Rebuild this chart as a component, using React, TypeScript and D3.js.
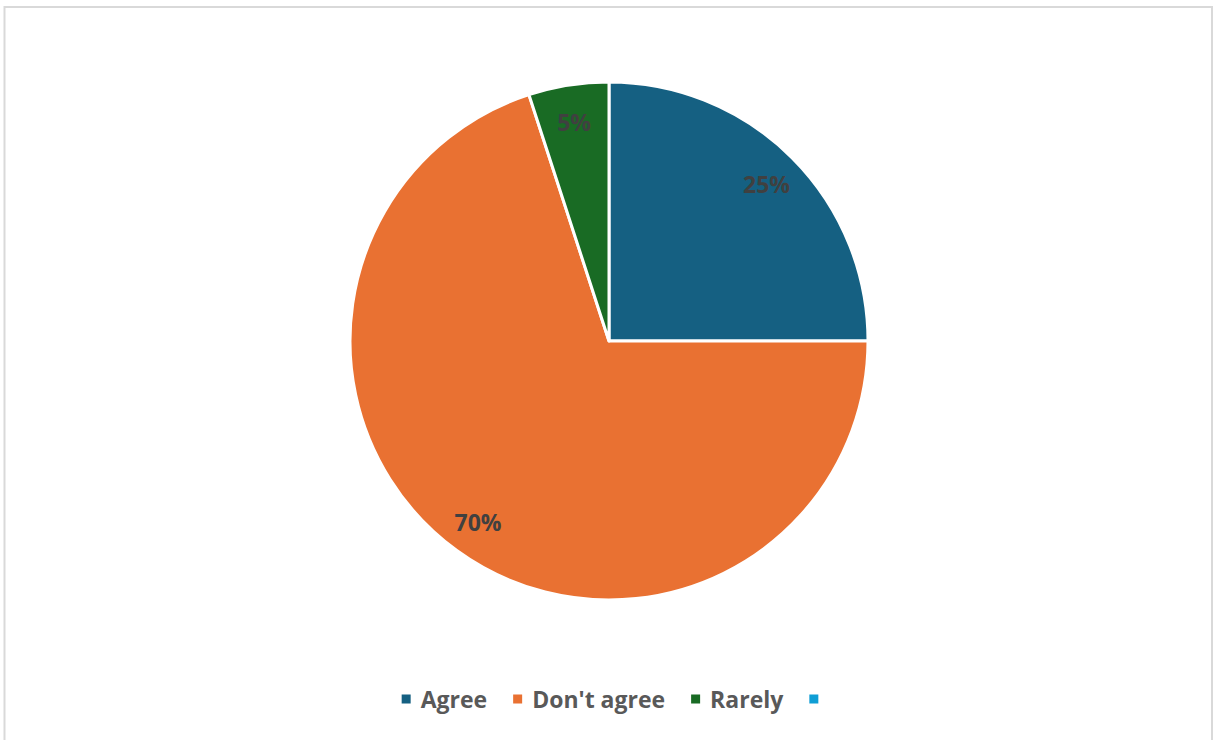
import React, { useEffect, useRef } from "react";
import * as d3 from "d3";

const categories = ["Agree", "Don't agree", "Rarely", ""];
const values = [25, 70, 5, 0];
const colors = ["#156082", "#E97132", "#196B24", "#0F9ED5"];

const W = 1214;
const H = 740;
const CX = 609;
const CY = 341;
const R = 259;

export default function App() {
  const ref = useRef<SVGSVGElement | null>(null);

  useEffect(() => {
    const svg = d3.select(ref.current);
    svg.selectAll("*").remove();

    svg
      .append("rect")
      .attr("x", 4.5)
      .attr("y", 7)
      .attr("width", 1207.5)
      .attr("height", 760)
      .attr("fill", "#fff")
      .attr("stroke", "#d9d9d9")
      .attr("stroke-width", 2);

    const total = d3.sum(values);
    const pie = d3
      .pie<number>()
      .sort(null)
      .value((d) => d);
    const arcs = pie(values);
    const arc = d3.arc<d3.PieArcDatum<number>>().innerRadius(0).outerRadius(R);
    const labelArc = d3
      .arc<d3.PieArcDatum<number>>()
      .innerRadius(R * 0.86)
      .outerRadius(R * 0.86);

    const g = svg.append("g").attr("transform", `translate(${CX},${CY})`);
    g.selectAll("path")
      .data(arcs.filter((a) => a.value > 0))
      .join("path")
      .attr("d", arc)
      .attr("fill", (d) => colors[d.index])
      .attr("stroke", "#fff")
      .attr("stroke-width", 3)
      .attr("stroke-linejoin", "round");

    g.selectAll("text")
      .data(arcs.filter((a) => a.value > 0))
      .join("text")
      .attr("transform", (d) => {
        const [x, y] = labelArc.centroid(d);
        return `translate(${x},${y + 1})`;
      })
      .attr("text-anchor", "middle")
      .attr("dominant-baseline", "central")
      .attr("font-family", "'Open Sans', sans-serif")
      .attr("font-weight", 700)
      .attr("font-size", 23)
      .attr("fill", "#404040")
      .text((d) => `${Math.round((d.value / total) * 100)}%`);

    // legend
    const lg = svg.append("g");
    const items = lg.selectAll("g").data(categories).join("g");
    items
      .append("rect")
      .attr("width", 9)
      .attr("height", 9)
      .attr("y", -4.5)
      .attr("fill", (_d, i) => colors[i]);
    const texts = items
      .append("text")
      .attr("x", 19)
      .attr("dominant-baseline", "central")
      .attr("font-family", "'Open Sans', sans-serif")
      .attr("font-weight", 700)
      .attr("font-size", 23)
      .attr("fill", "#595959")
      .text((d) => d);
    let x = 0;
    const gap = 26;
    items.each(function (_d, i) {
      const t = (texts.nodes()[i] as SVGTextElement).getComputedTextLength();
      d3.select(this).attr("transform", `translate(${x},0)`);
      x += 9 + (t > 0 ? 10 + t : 0) + gap;
    });
    const totalW = x - gap;
    lg.attr("transform", `translate(${610 - totalW / 2},699)`);
  }, []);

  return (
    <svg
      ref={ref}
      width={W}
      height={H}
      style={{ position: "absolute", left: 0, top: 0, background: "#fff" }}
    />
  );
}
